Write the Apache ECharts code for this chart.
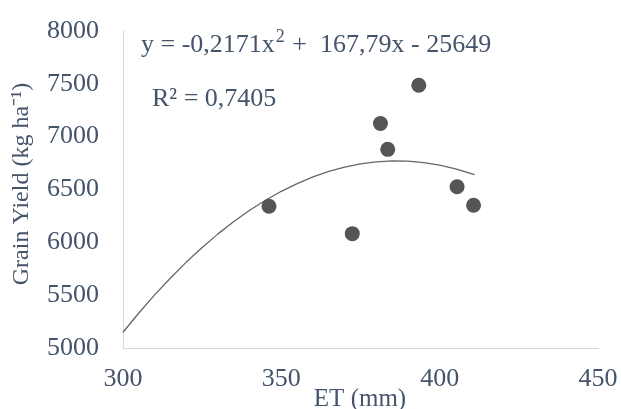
<!DOCTYPE html>
<html><head><meta charset="utf-8">
<script src="https://cdn.jsdelivr.net/npm/echarts@6/dist/echarts.min.js"></script>
<style>html,body{margin:0;padding:0;background:#fff}#c{width:621px;height:409px}</style>
</head><body><div id="c"></div>
<script>
// Observed points (ET mm, grain yield kg/ha)
const etValues = [346.1, 372.4, 381.3, 383.6, 393.4, 405.5, 410.7];
const yieldValues = [6341, 6082, 7124, 6880, 7487, 6526, 6351];
// Trend curve
const trendX = [300, 305, 310, 315, 320, 325, 330, 335, 340, 345, 350, 355, 360, 365, 370, 375, 380, 385, 390, 395, 400, 405, 410, 411];
const trendY = [5149, 5331, 5503, 5663, 5813, 5952, 6080, 6197, 6303, 6398, 6483, 6556, 6619, 6671, 6712, 6743, 6762, 6771, 6768, 6755, 6731, 6696, 6650, 6640];
const xTicks = [300, 350, 400, 450];
const yTicks = [5000, 5500, 6000, 6500, 7000, 7500, 8000];
const xTitle = 'ET (mm)';
const yTitle = 'Grain Yield (kg ha\u207B\u00B9)';

const txt = '#44546a';
const font = 'Liberation Serif';
const chart = echarts.init(document.getElementById('c'), null, {renderer: 'canvas'});
chart.setOption({
  animation: false,
  grid: {left: 123, right: 23, top: 31, bottom: 61, outerBoundsMode: 'none', containLabel: false},
  xAxis: {
    type: 'value', min: xTicks[0], max: xTicks[xTicks.length - 1], interval: 50,
    axisLine: {show: true, lineStyle: {color: '#d0d7e2', width: 1}},
    axisTick: {show: false}, splitLine: {show: false},
    axisLabel: {color: txt, fontFamily: font, fontSize: 26, margin: 18, formatter: v => String(v)}
  },
  yAxis: {
    type: 'value', min: yTicks[0], max: yTicks[yTicks.length - 1], interval: 500,
    axisLine: {show: true, lineStyle: {color: '#d0d7e2', width: 1}},
    axisTick: {show: false}, splitLine: {show: false},
    axisLabel: {color: txt, fontFamily: font, fontSize: 26, margin: 24, formatter: v => String(v)}
  },
  series: [
    {
      type: 'line', data: trendX.map((x, i) => [x, trendY[i]]), smooth: false,
      showSymbol: false, lineStyle: {color: '#666666', width: 1.3}, z: 1
    },
    {
      type: 'scatter', data: etValues.map((x, i) => [x, yieldValues[i]]),
      symbolSize: 15, itemStyle: {color: '#555555', opacity: 1}, z: 2
    }
  ],
  graphic: [
    {type: 'text', left: 141, top: 28, style: {
      text: '{a|y = -0,2171x}{s|2}{a| +  167,79x - 25649}',
      rich: {
        a: {fontFamily: font, fontSize: 26, fill: txt, verticalAlign: 'bottom', lineHeight: 30},
        s: {fontFamily: font, fontSize: 18, fill: txt, verticalAlign: 'top', padding: [0, 1, 8, 1], lineHeight: 30}
      }
    }},
    {type: 'text', left: 152, top: 86, style: {
      text: 'R\u00B2 = 0,7405', fontFamily: font, fontSize: 26, fill: txt
    }},
    {type: 'text', x: 360, y: 399, style: {
      text: xTitle, fontFamily: font, fontSize: 25, fill: txt, align: 'center', verticalAlign: 'middle'
    }},
    {type: 'text', x: 22, y: 184, rotation: Math.PI / 2, style: {
      text: yTitle, fontFamily: font, fontSize: 24, fill: txt, align: 'center', verticalAlign: 'middle'
    }}
  ]
});
</script></body></html>
